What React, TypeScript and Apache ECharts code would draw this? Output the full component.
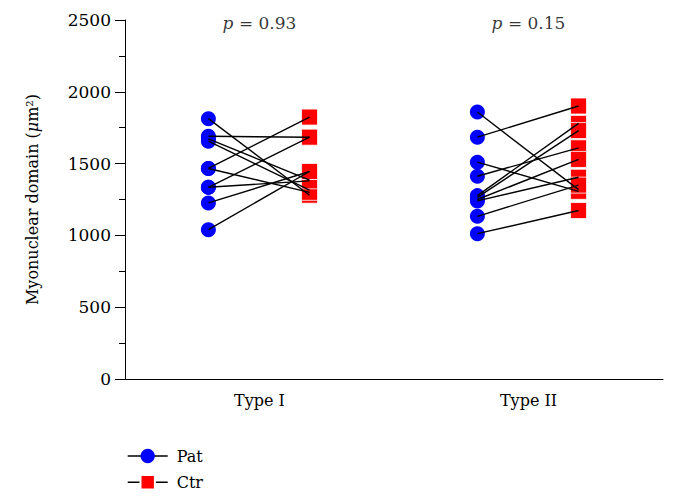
import { useEffect, useRef } from "react";
import * as echarts from "echarts";

// Categories and paired values (µm²)
const categories = ["Type I", "Type II"];
const typeIPat = [1813, 1690, 1672, 1656, 1466, 1466, 1335, 1335, 1226, 1040];
const typeICtr = [1280, 1684, 1385, 1315, 1824, 1300, 1684, 1380, 1445, 1445];
const typeIIPat = [1859, 1684, 1510, 1412, 1277, 1265, 1250, 1240, 1133, 1012];
const typeIICtr = [1319, 1901, 1307, 1610, 1780, 1730, 1529, 1405, 1350, 1173];
const pValues = ["0.93", "0.15"];
const yMin = 0;
const yMax = 2500;
const yInterval = 500;

export default function App() {
  const ref = useRef<HTMLDivElement>(null);
  useEffect(() => {
    document.body.style.margin = "0";
    const chart = echarts.init(ref.current!, null, { renderer: "svg" });
    const font = "'DejaVu Serif', 'Liberation Serif', serif";
    const patOff = -0.19;
    const ctrOff = 0.186;
    const groups = [
      { pat: typeIPat, ctr: typeICtr },
      { pat: typeIIPat, ctr: typeIICtr },
    ];
    const patPts: number[][] = [];
    const ctrPts: number[][] = [];
    const segs: any[] = [];
    groups.forEach((g, gi) => {
      const c = gi + 1;
      g.pat.forEach((v, i) => {
        patPts.push([c + patOff, v]);
        ctrPts.push([c + ctrOff, g.ctr[i]]);
        segs.push({ coords: [[c + patOff, v], [c + ctrOff, g.ctr[i]]] });
      });
    });
    const pPts = pValues.map((p, i) => ({ value: [i + 1, 2478], p }));

    chart.setOption({
      animation: false,
      backgroundColor: "#fff",
      grid: { left: 125, right: 16, top: 20, bottom: 122, containLabel: false },
      legend: {
        orient: "vertical",
        left: 122,
        top: 443,
        itemWidth: 40,
        itemHeight: 18,
        itemGap: 10,
        textStyle: { fontFamily: font, fontSize: 16, color: "#000", padding: [0, 0, 0, 4] },
        data: [
          { name: "Pat", lineStyle: { opacity: 1, color: "#000", width: 1.4 } },
          { name: "Ctr", lineStyle: { opacity: 1, color: "#000", width: 1.4 } },
        ],
      },
      xAxis: [
        {
          type: "category",
          data: categories,
          axisLine: { show: true, lineStyle: { color: "#000", width: 1 } },
          axisTick: { show: false },
          axisLabel: { color: "#000", fontFamily: font, fontSize: 16, margin: 13 },
          splitLine: { show: false },
        },
        {
          type: "value",
          min: 0.5,
          max: 2.5,
          show: false,
          splitLine: { show: false },
        },
      ],
      yAxis: {
        type: "value",
        min: yMin,
        max: yMax,
        interval: yInterval,
        name: "Myonuclear domain ({i|μ}m²)",
        nameLocation: "middle",
        nameGap: 85,
        nameRotate: 90,
        nameTextStyle: {
          color: "#000",
          fontFamily: font,
          fontSize: 16,
          padding: [0, 0, 0, 0],
          rich: { i: { fontStyle: "italic", fontFamily: font, fontSize: 16, color: "#000" } },
        },
        axisLine: { show: true, lineStyle: { color: "#000", width: 1 } },
        axisTick: { show: true, length: 10, lineStyle: { color: "#000" } },
        minorTick: { show: true, splitNumber: 2, length: 6, lineStyle: { color: "#000" } },
        splitLine: { show: false },
        axisLabel: {
          color: "#000",
          fontFamily: font,
          fontSize: 17,
          margin: 14,
          formatter: (v: number) => String(v),
        },
      },
      series: [
        {
          name: "Pat",
          type: "line",
          xAxisIndex: 1,
          data: patPts,
          symbol: "circle",
          symbolSize: 15,
          showSymbol: true,
          lineStyle: { opacity: 0 },
          itemStyle: { color: "#0000ff" },
          z: 2,
        },
        {
          name: "Ctr",
          type: "line",
          xAxisIndex: 1,
          data: ctrPts,
          symbol: "rect",
          symbolSize: 16,
          showSymbol: true,
          lineStyle: { opacity: 0 },
          itemStyle: { color: "#ff0000", borderColor: "#fff", borderWidth: 0.8 },
          z: 2,
        },
        {
          type: "lines",
          coordinateSystem: "cartesian2d",
          xAxisIndex: 1,
          data: segs,
          lineStyle: { color: "#000", width: 1.4, opacity: 1 },
          silent: true,
          z: 3,
        },
        {
          type: "scatter",
          xAxisIndex: 1,
          symbolSize: 0,
          data: pPts,
          silent: true,
          label: {
            show: true,
            position: "inside",
            formatter: (d: any) => "{i|p} = " + d.data.p,
            color: "#000",
            fontFamily: font,
            fontSize: 17,
            rich: { i: { fontStyle: "italic", fontFamily: font, fontSize: 17, color: "#000" } },
          },
        },
      ],
    });
    return () => chart.dispose();
  }, []);
  return <div ref={ref} style={{ width: 679, height: 501 }} />;
}
